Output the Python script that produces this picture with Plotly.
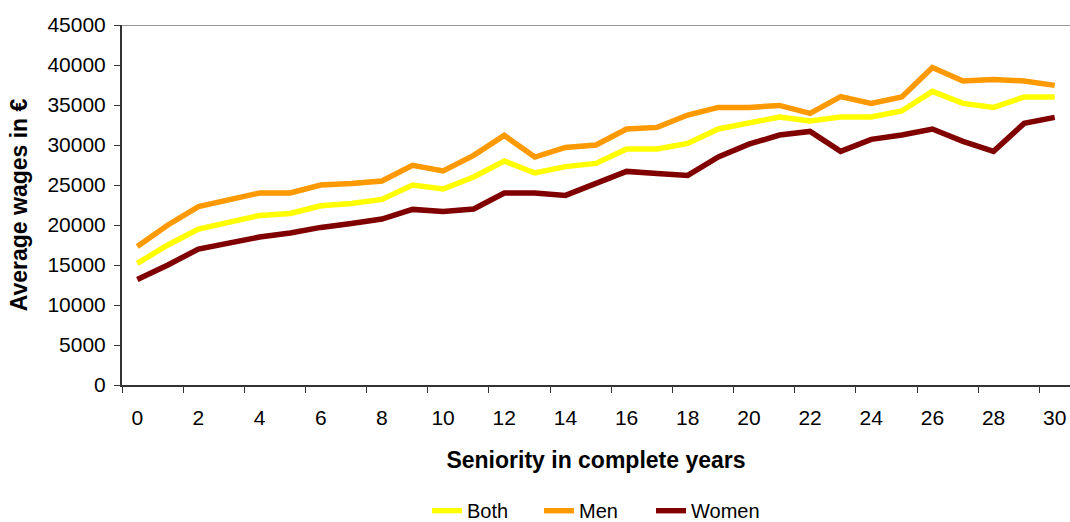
import plotly.graph_objects as go

seniority = list(range(31))
tick_labels = [str(v) for v in range(0, 31, 2)]

both = [15200, 17500, 19500, 20300, 21200, 21450, 22400, 22700, 23200, 25000, 24500,
        26000, 28000, 26500, 27300, 27700, 29500, 29500, 30200, 32000, 32700,
        33500, 33000, 33500, 33500, 34250, 36700, 35200, 34700, 36000, 36000]
men = [17300, 20000, 22300, 23200, 24000, 24000, 25000, 25200, 25500, 27450, 26750,
       28700, 31200, 28500, 29700, 30000, 32000, 32200, 33750, 34700, 34700,
       34950, 33950, 36050, 35200, 36000, 39700, 38000, 38200, 38000, 37450]
women = [13200, 15000, 17000, 17700, 18500, 19000, 19700, 20200, 20750, 21950, 21700,
         22000, 24000, 24000, 23700, 25200, 26700, 26450, 26200, 28500, 30100,
         31250, 31700, 29200, 30700, 31250, 32000, 30450, 29200, 32700, 33450]

series = [("Both", both, "#FFFF00"), ("Men", men, "#FF9900"), ("Women", women, "#800000")]

fig = go.Figure()
for name, vals, color in series:
    fig.add_trace(go.Scatter(x=seniority, y=vals, mode="lines", name=name,
                             line=dict(color=color, width=5.5)))

font_family = "Liberation Sans, Arial, sans-serif"

fig.update_layout(
    width=1070, height=522,
    margin=dict(l=122, r=0, t=25, b=137, autoexpand=False),
    paper_bgcolor="white", plot_bgcolor="white",
    font=dict(family=font_family, size=20, color="black"),
    showlegend=True,
    legend=dict(orientation="h", x=(427 - 122) / 948, xanchor="left",
                y=-0.349, yanchor="middle",
                font=dict(size=20), traceorder="normal", itemwidth=30,
                entrywidth=67, entrywidthmode="pixels"),
    xaxis=dict(
        range=[-0.5, 30.5],
        tickmode="array", tickvals=list(range(0, 31, 2)), ticktext=tick_labels,
        ticks="", showgrid=False, zeroline=False,
        showline=True, linecolor="#333333", linewidth=2,
        tickfont=dict(size=21), ticklabelstandoff=13,
        minor=dict(tickmode="array", tickvals=[v - 0.5 for v in range(0, 31, 2)],
                   ticks="outside", ticklen=6, tickcolor="#333333", tickwidth=1, showgrid=False),
        title=dict(text="<b>Seniority in complete years</b>", font=dict(size=23), standoff=24),
        automargin=False, fixedrange=True,
    ),
    yaxis=dict(
        range=[0, 45000], tickmode="linear", tick0=0, dtick=5000, tickformat="d",
        ticks="outside", ticklen=6, tickcolor="#333333", tickwidth=1,
        showgrid=False, zeroline=False,
        showline=True, linecolor="#333333", linewidth=2,
        tickfont=dict(size=21), ticklabelstandoff=4,
        title=dict(text="<b>Average wages in €</b>", font=dict(size=23), standoff=13),
        automargin=False, fixedrange=True,
    ),
    shapes=[dict(type="line", xref="paper", yref="y", x0=0, x1=1, y0=45000, y1=45000,
                 line=dict(color="#999999", width=2), layer="below")],
)

fig.write_html("out.html", config={"displayModeBar": False},
               post_script="document.body.style.margin='0';document.body.style.padding='0';")
